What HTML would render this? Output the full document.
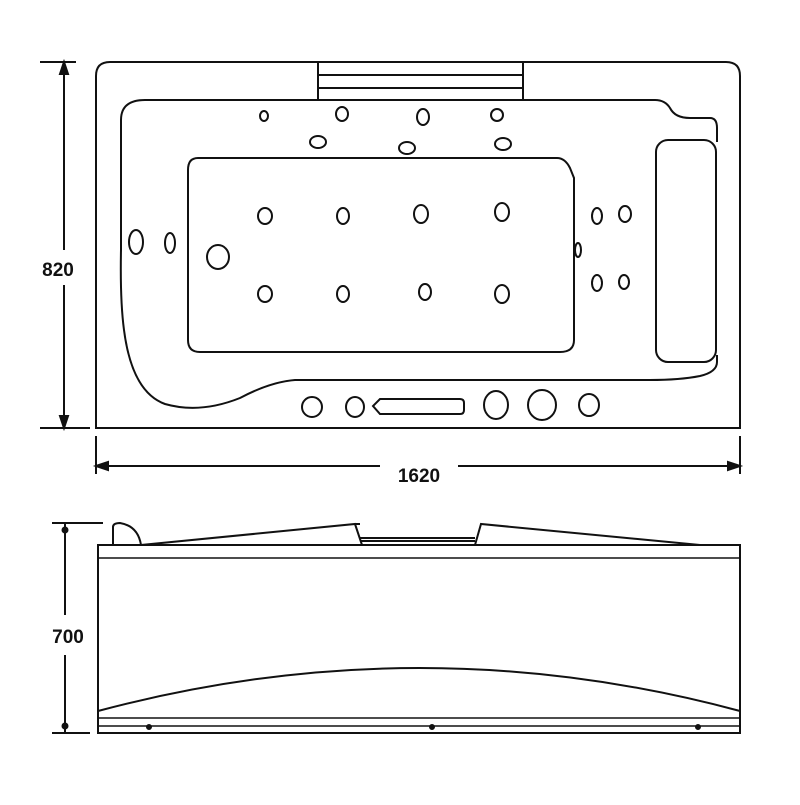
<!DOCTYPE html>
<html><head><style>body{margin:0;background:#fff}</style></head><body>
<svg width="800" height="800" viewBox="0 0 800 800" xmlns="http://www.w3.org/2000/svg" fill="none" stroke="#111" stroke-width="2">
<rect width="800" height="800" fill="#fff" stroke="none"/>
<!-- top view -->
<path d="M96 428 V76 Q96 62 110 62 H726 Q740 62 740 76 V428 Z"/>
<path d="M318 62 V100 M523 62 V100 M318 75 H523 M318 88 H523"/>
<path d="M717 142 V128 Q717 118 710 118 H690 Q675 118 670 108 Q665 100 655 100 H145 Q121 100 121 120 V250 Q120 300 124 330 Q132 392 165 404 Q200 414 240 398 Q270 382 295 380 H650 Q680 380 700 376 Q717 372 717 362 V355"/>
<path d="M198 158 H557 Q565 158 570 168 L574 178 V340 Q574 352 560 352 H200 Q188 352 188 340 V170 Q188 158 198 158 Z"/>
<rect x="656" y="140" width="60" height="222" rx="12"/>
<g stroke-width="2">
<ellipse cx="264" cy="116" rx="4" ry="5"/><ellipse cx="342" cy="114" rx="6" ry="7"/><ellipse cx="423" cy="117" rx="6" ry="8"/><ellipse cx="497" cy="115" rx="6" ry="6"/>
<ellipse cx="318" cy="142" rx="8" ry="6"/><ellipse cx="407" cy="148" rx="8" ry="6"/><ellipse cx="503" cy="144" rx="8" ry="6"/>
<ellipse cx="265" cy="216" rx="7" ry="8"/><ellipse cx="343" cy="216" rx="6" ry="8"/><ellipse cx="421" cy="214" rx="7" ry="9"/><ellipse cx="502" cy="212" rx="7" ry="9"/>
<ellipse cx="265" cy="294" rx="7" ry="8"/><ellipse cx="343" cy="294" rx="6" ry="8"/><ellipse cx="425" cy="292" rx="6" ry="8"/><ellipse cx="502" cy="294" rx="7" ry="9"/>
<ellipse cx="218" cy="257" rx="11" ry="12"/><ellipse cx="136" cy="242" rx="7" ry="12"/><ellipse cx="170" cy="243" rx="5" ry="10"/>
<ellipse cx="597" cy="216" rx="5" ry="8"/><ellipse cx="625" cy="214" rx="6" ry="8"/><ellipse cx="578" cy="250" rx="3" ry="7"/><ellipse cx="597" cy="283" rx="5" ry="8"/><ellipse cx="624" cy="282" rx="5" ry="7"/>
<ellipse cx="312" cy="407" rx="10" ry="10"/><ellipse cx="355" cy="407" rx="9" ry="10"/><path d="M380 399 H460 Q464 399 464 403 V410 Q464 414 460 414 H380 L373 406 Z"/>
<ellipse cx="496" cy="405" rx="12" ry="14"/><ellipse cx="542" cy="405" rx="14" ry="15"/><ellipse cx="589" cy="405" rx="10" ry="11"/>
</g>
<!-- dims top -->
<path d="M40 62 H76 M40 428 H90 M64 62 V250 M64 285 V428"/>
<path d="M64 62 l-4 12 h8 z M64 428 l-4 -12 h8 z" fill="#111"/>
<path d="M96 436 V474 M740 436 V474 M96 466 H380 M458 466 H740"/>
<path d="M96 466 l12 -4 v8 z M740 466 l-12 -4 v8 z" fill="#111"/>
<g font-family="Liberation Sans, sans-serif" font-weight="bold" font-size="19" fill="#111" stroke="none">
<text x="58" y="276" text-anchor="middle">820</text>
<text x="419" y="482" text-anchor="middle">1620</text>
<text x="68" y="643" text-anchor="middle">700</text>
</g>
<!-- side view -->
<rect x="98" y="545" width="642" height="188"/>
<path d="M98 558 H740 M98 718 H740 M98 726 H740" stroke-width="1.5"/>
<path d="M98 711 Q420 625 740 711"/>
<circle cx="149" cy="727" r="2" fill="#111"/><circle cx="432" cy="727" r="2" fill="#111"/><circle cx="698" cy="727" r="2" fill="#111"/>
<path d="M113 545 V527 Q113 523 120 523 Q138 526 141 545"/>
<path d="M141 545 L355 524 L362 545 M355 524 H360 M360 538 H475 M360 541 H475 M475 545 L481 524 L700 545"/>
<path d="M52 523 H103 M52 733 H90 M65 523 V615 M65 655 V733"/>
<circle cx="65" cy="530" r="2.5" fill="#111"/><circle cx="65" cy="726" r="2.5" fill="#111"/>
</svg>
</body></html>
